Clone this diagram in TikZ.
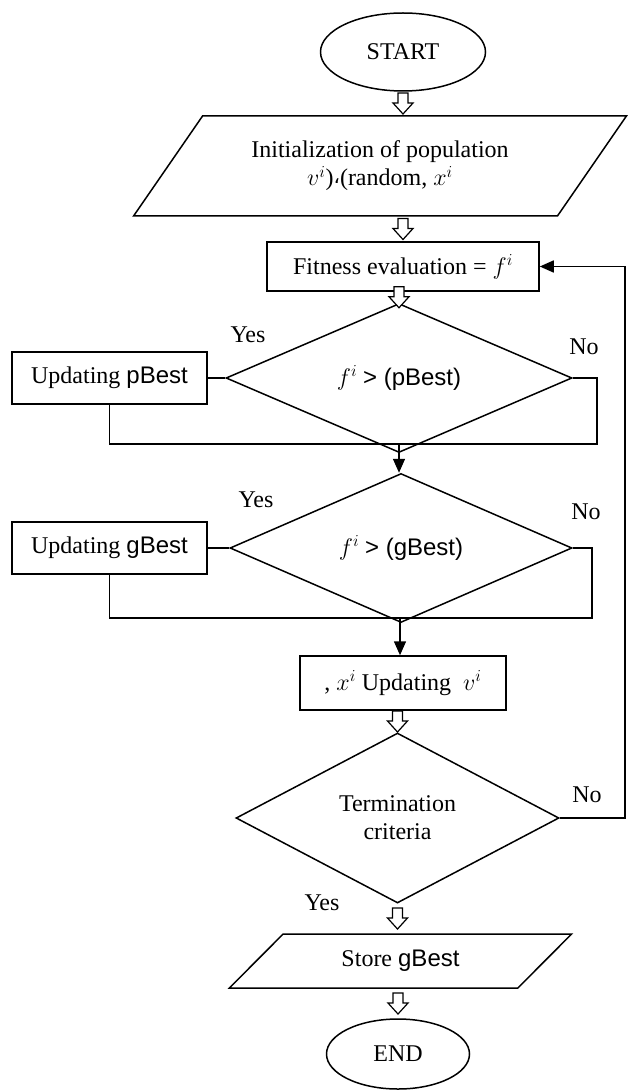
\documentclass[tikz,border=0pt]{standalone}
\usepackage{fix-cm}
\usepackage{fontspec}
\setmainfont{Liberation Serif}
\newfontfamily\arialfont{Liberation Sans}
\newfontfamily\arabicfont{DejaVu Sans}
\usetikzlibrary{shapes.geometric,arrows.meta,calc}
\newcommand{\hollowarrow}[2]{%
  \path (#1) -- coordinate[midway] (mid) (#2);
  \draw[line width=1.2pt,fill=white] ($(mid)+(-5,-10.5)$) -- ++(10,0) -- ++(0,10) -- ++(5,0)
    -- ++(-10,11) -- ++(-10,-11) -- ++(5,0) -- cycle;}
\begin{document}
\begin{tikzpicture}[x=1pt,y=-1pt,line width=1.5pt,
    every node/.style={font=\fontsize{24}{28}\selectfont,inner sep=0pt,align=center},
    tip/.style={-{Triangle[width=12pt,length=14pt]}}]
  \useasboundingbox (0,0) rectangle (627,1091);
  \node [draw,ellipse,minimum width=165,minimum height=78] (start) at (403,52) {START};
  \node [draw,trapezium,trapezium left angle=45,trapezium right angle=135,trapezium stretches,
         minimum width=494,minimum height=100] (init) at (380,166)
        {Initialization of population\\$v^{i}$)\raisebox{2pt}{\arabicfont\fontsize{20}{20}\selectfont ،}(random, $x^{i}$};
  \node [draw,minimum width=272,minimum height=49] (fit) at (403,266.5) {Fitness evaluation = $f^{i}$};
  \node [draw,diamond,minimum width=346,minimum height=112] (d1) at (399,378) {$f^{i}$ {\arialfont > (pBest)}};
  \node [draw,minimum width=195,minimum height=52] (pbest) at (109.5,378) {Updating {\arialfont pBest}};
  \node [draw,diamond,minimum width=342,minimum height=124] (d2) at (401,548) {$f^{i}$ {\arialfont > (gBest)}};
  \node [draw,minimum width=195,minimum height=52] (gbest) at (109.5,548) {Updating {\arialfont gBest}};
  \node [draw,minimum width=206,minimum height=54] (upd) at (403,683) {, $x^{i}$ Updating ~$v^{i}$};
  \node [draw,diamond,minimum width=323,minimum height=170] (d3) at (397.5,818) {Termination\\criteria};
  \node [draw,trapezium,trapezium left angle=38.5,trapezium right angle=141.5,trapezium stretches,
         minimum width=343,minimum height=54] (store) at (400.5,961) {Store {\arialfont gBest}};
  \node [draw,ellipse,minimum width=143,minimum height=70] (end) at (398,1054) {END};
  \node (y1) at (248,335) {Yes};
  \node (n1) at (584,347) {No};
  \node (y2) at (256,500) {Yes};
  \node (n2) at (586,512) {No};
  \node (n3) at (587,795) {No};
  \node (y3) at (322,903) {Yes};
  \coordinate (j1) at (399,444);
  \coordinate (j2) at (400,618);
  \hollowarrow{start.south}{start.south |- init.north}
  \hollowarrow{fit.north |- init.south}{fit.north}
  \hollowarrow{d1.north |- fit.south}{d1.north}
  \hollowarrow{d3.north |- upd.south}{d3.north}
  \hollowarrow{d3.south}{d3.south |- store.north}
  \hollowarrow{end.north |- store.south}{end.north}
  \draw (pbest) -- (d1);
  \draw (d1.east) -- ++(24,0) |- (j1);
  \draw (pbest.south) |- (j1);
  \draw [tip] (j1) -- (j1 |- d2.north);
  \draw (gbest) -- (d2);
  \draw (d2.east) -- ++(19,0) |- (j2);
  \draw (gbest.south) |- (j2);
  \draw [tip] (j2) -- (j2 |- upd.north);
  \draw [tip] (d3.east) -- ++(65,0) |- (fit.east);
\end{tikzpicture}
\end{document}
